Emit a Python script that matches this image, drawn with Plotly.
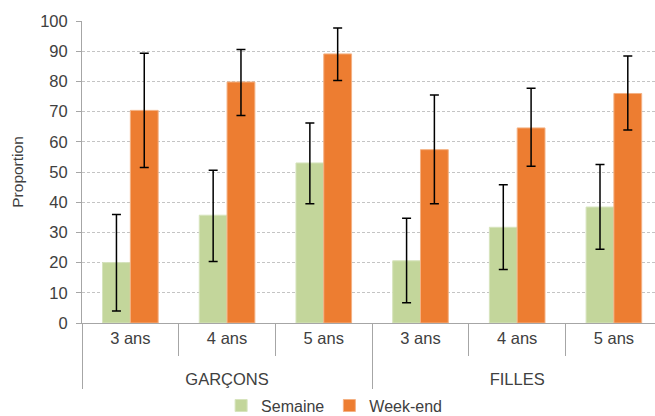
import plotly.graph_objects as go

# Groups and age categories
groups = ["GARÇONS"] * 3 + ["FILLES"] * 3
ages = ["3 ans", "4 ans", "5 ans"] * 2

# Proportions with confidence interval bounds
semaine = [20.0, 35.7, 53.0, 20.6, 31.7, 38.4]
semaine_low = [4.0, 20.4, 39.5, 6.7, 17.7, 24.4]
semaine_high = [35.9, 50.6, 66.2, 34.7, 45.8, 52.5]

weekend = [70.4, 79.8, 89.1, 57.4, 64.6, 76.0]
weekend_low = [51.5, 68.7, 80.3, 39.5, 51.9, 63.9]
weekend_high = [89.3, 90.6, 97.7, 75.5, 77.7, 88.4]

y_ticks = list(range(0, 101, 10))

GREEN = "#C3D69B"
ORANGE = "#ED7D31"
TEXT = "#404040"
AXIS = "#A6A6A6"
FONT = "Liberation Sans, Arial, sans-serif"


def err(vals, lo, hi):
    return dict(
        type="data",
        symmetric=False,
        array=[h - v for v, h in zip(vals, hi)],
        arrayminus=[v - l for v, l in zip(vals, lo)],
        color="black",
        thickness=1.5,
        width=4.5,
    )


# outer labels sit one line lower, leaving room under the age labels
x = [["<br>" + g for g in groups], ages]

fig = go.Figure()
fig.add_trace(go.Bar(
    name="Semaine", x=x, y=semaine,
    marker=dict(color=GREEN, line=dict(color="#D7E4BD", width=1)),
    error_y=err(semaine, semaine_low, semaine_high),
))
fig.add_trace(go.Bar(
    name="Week-end", x=x, y=weekend,
    marker=dict(color=ORANGE, line=dict(color="#F4B183", width=1)),
    error_y=err(weekend, weekend_low, weekend_high),
))

fig.update_layout(
    width=655, height=416,
    margin=dict(l=82, r=0, t=21, b=93, autoexpand=False),
    paper_bgcolor="white", plot_bgcolor="white",
    font=dict(family=FONT, size=16, color=TEXT),
    barmode="group", bargap=0.425, bargroupgap=0,
    showlegend=True,
    legend=dict(
        orientation="h", x=0.44, xanchor="center",
        yref="container", y=0.025, yanchor="middle",
        font=dict(size=16, color=TEXT), itemwidth=30, tracegroupgap=0,
    ),
)

fig.update_xaxes(
    type="multicategory",
    range=[-0.5, 5.425], autorange=False,
    showline=True, linecolor=AXIS, linewidth=1,
    ticks="outside", tickson="boundaries", ticklen=32, tickcolor=AXIS,
    showdividers=True, dividercolor=AXIS, dividerwidth=1,
    tickfont=dict(size=16.5, color=TEXT),
    showgrid=False,
)

fig.update_yaxes(
    range=[0, 100], autorange=False,
    tickvals=y_ticks,
    showline=True, linecolor=AXIS, linewidth=1,
    ticks="outside", ticklen=5, tickcolor=AXIS, ticklabelstandoff=5,
    showgrid=True, gridcolor="#C4C4C4", griddash="3px,2px", gridwidth=1,
    zeroline=False,
    tickfont=dict(size=16.5, color=TEXT),
    title=dict(text="Proportion", font=dict(size=15.5, color=TEXT), standoff=12),
)

fig.write_html("out.html")
